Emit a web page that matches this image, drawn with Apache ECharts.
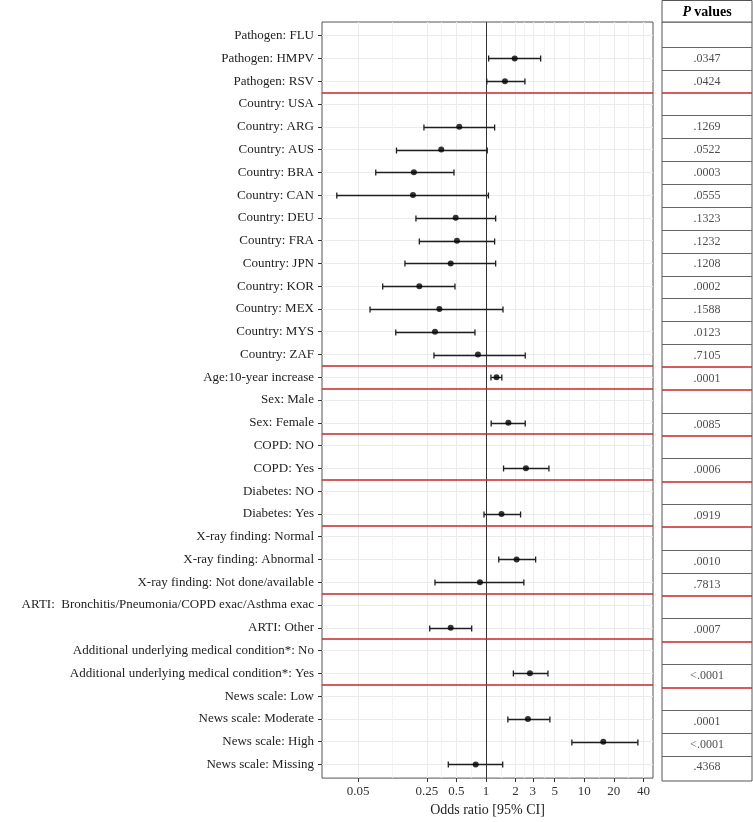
<!DOCTYPE html>
<html><head><meta charset="utf-8">
<script src="https://cdn.jsdelivr.net/npm/echarts@6/dist/echarts.min.js"></script>
<style>html,body{margin:0;padding:0;background:#fff}#c{width:753px;height:822px}</style>
</head><body><div id="c"></div>
<script>
const categories = [
  'Pathogen: FLU','Pathogen: HMPV','Pathogen: RSV',
  'Country: USA','Country: ARG','Country: AUS','Country: BRA','Country: CAN','Country: DEU',
  'Country: FRA','Country: JPN','Country: KOR','Country: MEX','Country: MYS','Country: ZAF',
  'Age:10-year increase','Sex: Male','Sex: Female','COPD: NO','COPD: Yes',
  'Diabetes: NO','Diabetes: Yes','X-ray finding: Normal','X-ray finding: Abnormal',
  'X-ray finding: Not done/available','ARTI:  Bronchitis/Pneumonia/COPD exac/Asthma exac',
  'ARTI: Other','Additional underlying medical condition*: No',
  'Additional underlying medical condition*: Yes','News scale: Low','News scale: Moderate',
  'News scale: High','News scale: Missing'
];
const oddsRatio = [null,1.96,1.56, null,0.535,0.351,0.185,0.181,0.492,0.507,0.438,0.210,0.336,0.303,0.829,
  1.28,null,1.69,null,2.55,null,1.44,null,2.05,0.869,null,0.438,null,2.80,null,2.67,15.6,0.786];
const ciLow = [null,1.065,1.02, null,0.234,0.123,0.0757,0.0304,0.194,0.210,0.150,0.0891,0.0662,0.121,0.296,
  1.124,null,1.13,null,1.51,null,0.955,null,1.35,0.303,null,0.268,null,1.90,null,1.67,7.48,0.414];
const ciHigh = [null,3.60,2.49, null,1.225,1.03,0.473,1.06,1.255,1.225,1.255,0.484,1.49,0.773,2.51,
  1.45,null,2.51,null,4.37,null,2.25,null,3.20,2.43,null,0.716,null,4.27,null,4.47,35.1,1.48];
const pValues = ['','.0347','.0424','','.1269','.0522','.0003','.0555','.1323','.1232','.1208','.0002',
  '.1588','.0123','.7105','.0001','','.0085','','.0006','','.0919','','.0010','.7813','','.0007','',
  '<.0001','','.0001','<.0001','.4368'];
const tickLabels = ['0.05','0.25','0.5','1','2','3','5','10','20','40'];
const separators = [2.5,14.5,15.5,17.5,19.5,21.5,24.5,26.5,28.5];
const referenceOR = 1;

const FONT = 'Liberation Serif';
const L = v => Math.log10(v);
const majorVals = tickLabels.map(t => L(parseFloat(t)));
const minorVals = [];
for (let i = 0; i < majorVals.length - 1; i++) minorVals.push((majorVals[i] + majorVals[i + 1]) / 2);
const rowIdx = categories.map((_, i) => i);
const xMin = L(0.0215), xMax = L(50);
const yMin = -0.6, yMax = categories.length - 1 + 0.6;

const pointData = [], barData = [];
categories.forEach((c, i) => {
  if (oddsRatio[i] != null) {
    pointData.push([L(oddsRatio[i]), i]);
    barData.push([L(ciLow[i]), L(ciHigh[i]), i]);
  }
});
const pData = [];
pValues.forEach((p, i) => { if (p) pData.push([0.5, i, p]); });

const RED = '#c62828';
const tableLines = [];
for (let k = 0; k < categories.length - 1; k++) {
  const v = k + 0.5;
  const isSep = separators.includes(v);
  tableLines.push({ yAxis: v, lineStyle: { color: isSep ? RED : '#666', width: isSep ? 1.5 : 1, type: 'solid' } });
}

const chart = echarts.init(document.getElementById('c'));
chart.setOption({
  animation: false,
  backgroundColor: '#fff',
  textStyle: { fontFamily: FONT },
  grid: [
    { left: 322, right: 100, top: 22, bottom: 41, show: true, borderColor: '#555', borderWidth: 1, backgroundColor: 'transparent' },
    { left: 662, right: 1, top: 22, bottom: 41, show: true, borderColor: '#555', borderWidth: 1, backgroundColor: 'transparent' }
  ],
  xAxis: [
    {
      type: 'value', gridIndex: 0, min: xMin, max: xMax, position: 'bottom',
      axisLine: { show: false, onZero: false },
      axisTick: { show: true, customValues: majorVals, length: 4, lineStyle: { color: '#333' } },
      axisLabel: {
        customValues: majorVals, margin: 7, fontFamily: FONT, fontSize: 13, color: '#333',
        formatter: v => {
          let best = 0, d = Infinity;
          majorVals.forEach((m, i) => { if (Math.abs(m - v) < d) { d = Math.abs(m - v); best = i; } });
          return tickLabels[best];
        }
      },
      splitLine: { show: true, lineStyle: { color: '#ebebeb', width: 1 } },
      name: 'Odds ratio [95% CI]', nameLocation: 'middle', nameGap: 20,
      nameTextStyle: { fontFamily: FONT, fontSize: 14, color: '#222' }
    },
    { type: 'value', gridIndex: 1, min: 0, max: 1, show: false, axisLine: { onZero: false } }
  ],
  yAxis: [
    {
      type: 'value', gridIndex: 0, min: yMin, max: yMax, inverse: true, position: 'left',
      axisLine: { show: false, onZero: false },
      axisTick: { show: true, customValues: rowIdx, length: 4, lineStyle: { color: '#333' } },
      axisLabel: {
        customValues: rowIdx, margin: 8, fontFamily: FONT, fontSize: 13, color: '#222',
        formatter: v => categories[Math.round(v)]
      },
      splitLine: { show: true, lineStyle: { color: '#ebebeb', width: 1 } }
    },
    { type: 'value', gridIndex: 1, min: yMin, max: yMax, inverse: true, show: false, axisLine: { onZero: false } }
  ],
  series: [
    {
      type: 'scatter', xAxisIndex: 0, yAxisIndex: 0, z: 1, silent: true,
      data: [[xMin, yMin]], symbolSize: 0, itemStyle: { color: 'transparent' },
      markLine: {
        z: 1, silent: true, symbol: ['none', 'none'], label: { show: false },
        lineStyle: { color: '#f0f0f0', width: 0.8, type: 'solid' },
        data: minorVals.map(v => [{ coord: [v, yMin] }, { coord: [v, yMax] }])
      }
    },
    {
      type: 'scatter', xAxisIndex: 0, yAxisIndex: 0, z: 2, silent: true,
      data: [[xMin, yMin]], symbolSize: 0, itemStyle: { color: 'transparent' },
      markLine: {
        z: 2, silent: true, symbol: ['none', 'none'], label: { show: false },
        data: [
          [{ coord: [L(referenceOR), yMin], lineStyle: { color: '#333', width: 1, type: 'solid' } },
           { coord: [L(referenceOR), yMax] }]
        ].concat(separators.map(v => ({ yAxis: v, lineStyle: { color: RED, width: 1.5, type: 'solid' } })))
      }
    },
    {
      type: 'custom', xAxisIndex: 0, yAxisIndex: 0, z: 3, silent: true,
      data: barData,
      encode: { x: [0, 1], y: 2 },
      renderItem: (params, api) => {
        const yv = api.value(2);
        const p1 = api.coord([api.value(0), yv]);
        const p2 = api.coord([api.value(1), yv]);
        const y = Math.round(p1[1]) + 0.5;
        const h = 3;
        const style = { stroke: '#1f1f1f', lineWidth: 1.3 };
        return {
          type: 'group', children: [
            { type: 'line', shape: { x1: p1[0], y1: y, x2: p2[0], y2: y }, style },
            { type: 'line', shape: { x1: p1[0], y1: y - h, x2: p1[0], y2: y + h }, style },
            { type: 'line', shape: { x1: p2[0], y1: y - h, x2: p2[0], y2: y + h }, style }
          ]
        };
      }
    },
    {
      type: 'scatter', xAxisIndex: 0, yAxisIndex: 0, z: 4, silent: true,
      data: pointData, symbol: 'circle', symbolSize: 6, itemStyle: { color: '#000' }
    },
    {
      type: 'scatter', xAxisIndex: 1, yAxisIndex: 1, z: 4, silent: true,
      data: pData, symbolSize: 1, itemStyle: { color: 'transparent' },
      label: {
        show: true, position: 'inside', formatter: p => p.value[2],
        fontFamily: FONT, fontSize: 12, color: '#222'
      },
      markLine: {
        z: 3, silent: true, symbol: ['none', 'none'], label: { show: false },
        data: tableLines
      }
    }
  ],
  graphic: [
    {
      type: 'rect', shape: { x: 662, y: 0.5, width: 90, height: 21.5 },
      style: { fill: '#fff', stroke: '#555', lineWidth: 1 }
    },
    {
      type: 'text', x: 707, y: 12,
      style: {
        text: '{i|P} {b|values}', align: 'center', verticalAlign: 'middle',
        rich: {
          i: { fontFamily: FONT, fontSize: 14, fontWeight: 'bold', fontStyle: 'italic', fill: '#000' },
          b: { fontFamily: FONT, fontSize: 14, fontWeight: 'bold', fill: '#000' }
        }
      }
    }
  ]
});
</script>
</body></html>
